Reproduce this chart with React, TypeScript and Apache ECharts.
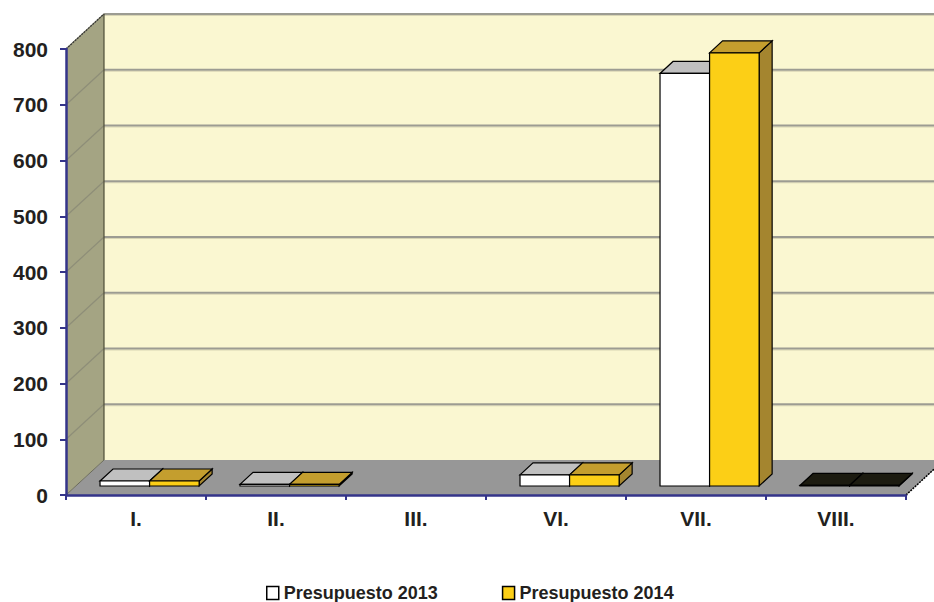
import React, { useEffect, useRef } from "react";
import * as echarts from "echarts";

const categories = ["I.", "II.", "III.", "VI.", "VII.", "VIII."];
const presupuesto2013 = [9, 3, 0, 20, 740, 1];
const presupuesto2014 = [9, 3, 0, 20, 777, 1];
const darkBars = [false, false, false, false, false, true];
const yTickValues = [0, 100, 200, 300, 400, 500, 600, 700, 800];
const seriesNames = ["Presupuesto 2013", "Presupuesto 2014"];

const DX = 38;
const DY = -35;
const BDX = 13;
const BDY = -12;
const BASE_SHIFT = -9;

const FONT = "'Liberation Sans', Arial, sans-serif";
const TEXT = "#231f20";
const NAVY = "#34348a";

const palettes = [
  { front: "#ffffff", top: "#c0c0c0", side: "#9a9a9a" },
  { front: "#fccf16", top: "#c49e2e", side: "#a4852f" },
];
const darkPalette = { front: "#050505", top: "#1c1b10", side: "#101008" };

function renderWalls(params: any, api: any) {
  const cs = params.coordSys;
  const x0 = cs.x;
  const x1 = cs.x + cs.width;
  const yTop = cs.y;
  const yBot = cs.y + cs.height;
  const children: any[] = [];
  children.push({
    type: "rect",
    shape: { x: x0 + DX, y: yTop + DY, width: 2000, height: cs.height },
    style: { fill: "#faf7d1" },
  });
  children.push({
    type: "polygon",
    shape: { points: [[x0, yBot], [x1, yBot], [x1 + DX, yBot + DY], [x0 + DX, yBot + DY]] },
    style: { fill: "#979797" },
  });
  children.push({
    type: "polygon",
    shape: { points: [[x0, yBot], [x0, yTop], [x0 + DX, yTop + DY], [x0 + DX, yBot + DY]] },
    style: { fill: "#a4a483" },
  });
  yTickValues.forEach((v) => {
    if (v === 0) return;
    const y = api.coord([0, v])[1];
    children.push({
      type: "line",
      shape: { x1: x0, y1: y, x2: x0 + DX, y2: y + DY },
      style: { stroke: "#8e8e78", lineWidth: 1.2 },
    });
    children.push({
      type: "line",
      shape: { x1: x0 + DX, y1: y + DY + 1.5, x2: x1 + DX + 200, y2: y + DY + 1.5 },
      style: { stroke: "#d8d5b4", lineWidth: 1.2 },
    });
    children.push({
      type: "line",
      shape: { x1: x0 + DX, y1: y + DY, x2: x1 + DX + 200, y2: y + DY },
      style: { stroke: "#9c9c92", lineWidth: 2 },
    });
  });
  children.push({
    type: "line",
    shape: { x1: x0 + DX, y1: yTop + DY, x2: x0 + DX, y2: yBot + DY },
    style: { stroke: "#4d4d38", lineWidth: 1.2 },
  });
  children.push({
    type: "line",
    shape: { x1: x0, y1: yTop, x2: x0 + DX, y2: yTop + DY },
    style: { stroke: "#333", lineWidth: 1.2, lineDash: [2, 1] },
  });
  children.push({
    type: "line",
    shape: { x1: x0, y1: yBot, x2: x0 + DX, y2: yBot + DY },
    style: { stroke: "#6a6a5a", lineWidth: 1 },
  });
  children.push({
    type: "line",
    shape: { x1: x1, y1: yBot, x2: x1 + DX, y2: yBot + DY },
    style: { stroke: "#000", lineWidth: 1.5, lineDash: [2, 1] },
  });
  return { type: "group", children };
}

function makeBarRenderer(seriesIndex: number) {
  return function (params: any, api: any) {
    const idx = api.value(0);
    const val = api.value(1);
    if (!val) return null;
    const base = api.coord([idx, 0]);
    const top = api.coord([idx, val]);
    const w = api.size([1, 0])[0];
    const catLeft = base[0] - w / 2;
    const bw = w * 0.354;
    const x0 = catLeft + w * 0.243 + seriesIndex * bw;
    const x1 = x0 + bw;
    const yb = base[1] + BASE_SHIFT;
    const yt = top[1] + BASE_SHIFT;
    const pal = darkBars[idx] ? darkPalette : palettes[seriesIndex];
    const stroke = { stroke: "#000", lineWidth: 1.2 };
    return {
      type: "group",
      children: [
        {
          type: "polygon",
          shape: { points: [[x1, yt], [x1 + BDX, yt + BDY], [x1 + BDX, yb + BDY], [x1, yb]] },
          style: { fill: pal.side, ...stroke },
        },
        {
          type: "polygon",
          shape: { points: [[x0, yt], [x1, yt], [x1 + BDX, yt + BDY], [x0 + BDX, yt + BDY]] },
          style: { fill: pal.top, ...stroke },
        },
        {
          type: "rect",
          shape: { x: x0, y: yt, width: bw, height: yb - yt },
          style: { fill: pal.front, ...stroke },
        },
      ],
    };
  };
}

export default function App() {
  const ref = useRef<HTMLDivElement>(null);
  useEffect(() => {
    if (!ref.current) return;
    const chart = echarts.init(ref.current, null, { renderer: "svg" });
    const d2013 = presupuesto2013.map((v, i) => [i, v]);
    const d2014 = presupuesto2014.map((v, i) => [i, v]);
    chart.setOption({
      animation: false,
      backgroundColor: "#ffffff",
      grid: { left: 66, top: 49, width: 840, height: 446, containLabel: false },
      legend: {
        left: 266,
        top: 584,
        padding: 0,
        itemWidth: 12,
        itemHeight: 13,
        itemGap: 64,
        icon: "rect",
        selectedMode: false,
        textStyle: { fontFamily: FONT, fontWeight: "bold", fontSize: 18, lineHeight: 16, color: TEXT },
        data: [
          { name: seriesNames[0], itemStyle: { color: "#ffffff", borderColor: "#000", borderWidth: 1.5 } },
          { name: seriesNames[1], itemStyle: { color: "#fccf16", borderColor: "#000", borderWidth: 1.5 } },
        ],
      },
      xAxis: {
        type: "category",
        data: categories,
        boundaryGap: true,
        axisLine: { show: true, lineStyle: { color: NAVY, width: 2.5 } },
        axisTick: { show: true, length: 5, alignWithLabel: false, lineStyle: { color: NAVY, width: 2 } },
        axisLabel: { fontFamily: FONT, fontWeight: "bold", fontSize: 21, color: TEXT, margin: 13 },
        splitLine: { show: false },
        z: 10,
      },
      yAxis: {
        type: "value",
        min: 0,
        max: 800,
        interval: 100,
        axisLine: { show: true, lineStyle: { color: NAVY, width: 2.5 } },
        axisTick: { show: true, length: 6, lineStyle: { color: NAVY, width: 2 } },
        axisLabel: { fontFamily: FONT, fontWeight: "bold", fontSize: 21, color: TEXT, margin: 18 },
        splitLine: { show: false },
        z: 10,
      },
      series: [
        {
          type: "custom",
          name: "walls",
          renderItem: renderWalls,
          data: [[0, 0]],
          clip: false,
          silent: true,
          z: 1,
        },
        {
          type: "custom",
          name: seriesNames[0],
          renderItem: makeBarRenderer(0),
          data: d2013,
          encode: { x: 0, y: 1 },
          clip: false,
          itemStyle: { color: "#ffffff", borderColor: "#000", borderWidth: 1.5 },
          z: 2,
        },
        {
          type: "custom",
          name: seriesNames[1],
          renderItem: makeBarRenderer(1),
          data: d2014,
          encode: { x: 0, y: 1 },
          clip: false,
          itemStyle: { color: "#fccf16", borderColor: "#000", borderWidth: 1.5 },
          z: 3,
        },
      ],
    });
    return () => chart.dispose();
  }, []);
  return (
    <div
      ref={ref}
      style={{ position: "fixed", left: 0, top: 0, width: 934, height: 602 }}
    />
  );
}
